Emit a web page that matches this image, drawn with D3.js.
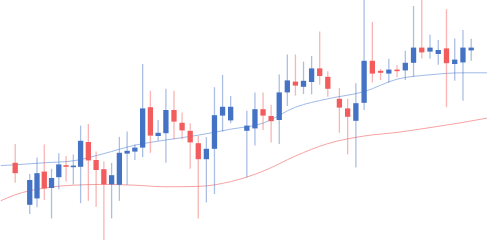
<!DOCTYPE html>
<html>
<head>
<meta charset="utf-8">
<script src="https://cdn.jsdelivr.net/npm/d3@7"></script>
<style>
  html, body { margin: 0; padding: 0; background: #fff; }
  svg { display: block; }
</style>
</head>
<body>
<svg id="chart"></svg>
<script>
const width = 487;
const height = 240;

// trading day index (1 and 29 have no candle)
const days = [0, 2, 3, 4, 5, 6, 7, 8, 9, 10, 11, 12, 13, 14, 15, 16, 17, 18, 19, 20,
  21, 22, 23, 24, 25, 26, 27, 28, 30, 31, 32, 33, 34, 35, 36, 37, 38, 39, 40,
  41, 42, 43, 44, 45, 46, 47, 48, 49, 50, 51, 52, 53, 54, 55, 56, 57];
const open = [109.3, 98.8, 100.4, 107.1, 103.0, 105.7, 108.7, 108.2, 108.3, 114.5,
  110.0, 107.7, 103.9, 103.8, 111.6, 112.1, 113.1, 123.2, 116.0, 116.7,
  122.5, 119.3, 117.3, 114.2, 110.2, 112.8, 121.1, 119.9, 117.3, 117.9,
  122.7, 121.0, 120.0, 126.9, 129.6, 128.3, 129.5, 132.9, 130.8,
  125.3, 122.9, 119.8, 124.3, 134.8, 132.3, 131.6, 132.6, 132.4, 134.3,
  138.1, 137.1, 136.5, 137.9, 134.0, 134.4, 137.4];
const high = [114.0, 106.5, 110.6, 113.9, 107.8, 111.7, 111.0, 111.4, 118.6, 119.0,
  112.1, 109.6, 109.3, 115.8, 117.1, 113.9, 134.0, 127.3, 120.0, 127.8,
  127.3, 121.9, 119.2, 116.0, 115.7, 128.2, 131.3, 126.0, 122.3, 126.9,
  126.9, 123.8, 131.4, 136.4, 136.4, 134.6, 136.0, 142.1, 132.2,
  128.0, 125.3, 129.2, 151.0, 144.5, 132.8, 135.3, 133.7, 137.3, 148.5,
  151.0, 141.3, 140.0, 147.7, 140.4, 142.5, 140.3];
const low = [104.3, 96.5, 98.2, 100.0, 95.4, 102.7, 104.6, 103.9, 99.2, 99.8,
  98.3, 90.0, 95.4, 99.8, 103.8, 110.0, 110.7, 111.8, 114.8, 109.3,
  115.2, 115.2, 107.8, 95.4, 99.4, 101.5, 117.1, 119.2, 105.6, 113.6,
  117.5, 114.4, 114.0, 123.5, 126.1, 126.5, 126.4, 128.8, 125.8,
  116.8, 111.4, 108.1, 122.5, 129.4, 130.0, 129.3, 130.7, 130.0, 130.8,
  135.4, 135.3, 133.8, 123.2, 129.8, 124.8, 134.8];
const close = [106.7, 105.0, 106.7, 102.9, 105.5, 108.9, 108.3, 108.6, 114.8, 109.9,
  107.5, 103.9, 106.2, 111.8, 112.3, 113.1, 122.9, 116.1, 116.8, 122.5,
  119.6, 117.4, 114.4, 110.2, 112.8, 121.2, 123.3, 123.3, 118.6, 122.7,
  121.1, 119.7, 126.9, 129.9, 128.6, 129.8, 132.9, 131.0, 127.8,
  123.1, 120.8, 124.2, 134.8, 131.6, 131.8, 132.6, 132.2, 134.3, 138.1,
  136.9, 138.1, 137.5, 134.2, 135.1, 138.1, 138.1];

// moving averages, read at every 4th day
const maDays = [-2, 0, 4, 8, 12, 16, 20, 24, 28, 32, 36, 40, 44, 48, 52, 56, 59];
const maShort = [108.6, 108.8, 109.3, 109.8, 111.6, 113.7, 115.0, 116.2, 117.7,
  119.2, 123.2, 125.3, 127.1, 130.2, 131.3, 131.8, 131.8];
const maLong = [99.8, 101.3, 103.0, 103.7, 103.9, 103.7, 103.3, 103.4, 104.6,
  107.2, 111.0, 114.1, 116.0, 116.9, 118.1, 119.4, 120.5];

const upColor = "#4472c4";
const downColor = "#f25c5c";

const candles = days.map((d, i) => ({
  day: d, open: open[i], high: high[i], low: low[i], close: close[i]
}));

const svg = d3.select("#chart").attr("width", width).attr("height", height);

svg.append("rect").attr("width", width).attr("height", height).attr("fill", "#fff");

// candle spacing widens slightly to the right in the original
const x = d3.scaleLinear()
  .domain([0, 9, 20, 40, 41, 57])
  .range([15.2, 80.6, 165.9, 327.8, 339.4, 471.2]);

const y = d3.scaleLinear().domain([90, 150]).range([height, 0]);

const line = (values) => d3.line()
  .x((d, i) => x(maDays[i]))
  .y((d) => y(d))
  .curve(d3.curveMonotoneX)(values);

svg.append("path")
  .attr("d", line(maLong))
  .attr("fill", "none")
  .attr("stroke", "#f7a3a3")
  .attr("stroke-width", 1);

svg.append("path")
  .attr("d", line(maShort))
  .attr("fill", "none")
  .attr("stroke", "#9fbbe6")
  .attr("stroke-width", 1);

const g = svg.append("g");

g.selectAll(".wick")
  .data(candles)
  .join("line")
  .attr("class", "wick")
  .attr("x1", (d) => x(d.day))
  .attr("x2", (d) => x(d.day))
  .attr("y1", (d) => y(d.high))
  .attr("y2", (d) => y(d.low))
  .attr("stroke", (d) => (d.close >= d.open ? upColor : downColor))
  .attr("stroke-opacity", 0.45)
  .attr("stroke-width", 1.3);

const bodyW = 5.3;

g.selectAll(".body")
  .data(candles)
  .join("rect")
  .attr("class", "body")
  .attr("x", (d) => x(d.day) - bodyW / 2)
  .attr("width", bodyW)
  .attr("y", (d) => y(Math.max(d.open, d.close)))
  .attr("height", (d) => Math.max(1.5, Math.abs(y(d.open) - y(d.close))))
  .attr("fill", (d) => (d.close >= d.open ? upColor : downColor));
</script>
</body>
</html>
